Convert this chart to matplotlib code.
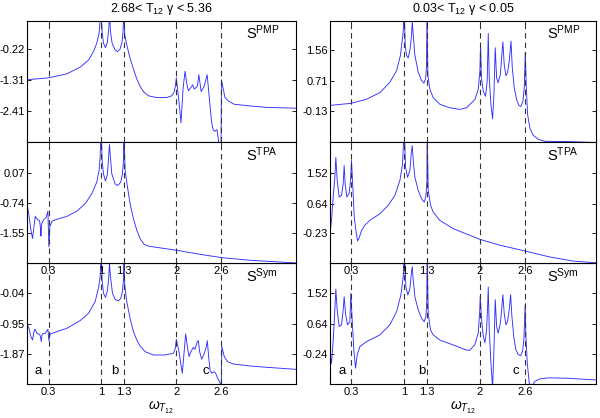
import numpy as np
import matplotlib
matplotlib.use('Agg')
import matplotlib.pyplot as plt

plt.rcParams['font.family'] = ['Liberation Sans', 'DejaVu Sans']
plt.rcParams['mathtext.fontset'] = 'custom'
plt.rcParams['mathtext.rm'] = 'Liberation Sans'
plt.rcParams['mathtext.it'] = 'Liberation Sans:italic'

# resonance positions (dashed lines / x ticks)
marks = [0.3, 1, 1.3, 2, 2.6]
mark_labels = ['0.3', '1', '1.3', '2', '2.6']

# ---- left column: 2.68 < T12 gamma < 5.36 ----
pmp_l_x = [0.01, 0.30, 0.544, 0.721, 0.832, 0.898, 0.942, 0.973, 1.0, 1.013, 1.031, 1.058, 1.084, 1.102,
           1.111, 1.124, 1.146, 1.186, 1.217, 1.252, 1.279, 1.292, 1.301, 1.314, 1.341, 1.385, 1.429,
           1.474, 1.518, 1.562, 1.629, 1.739, 1.872, 1.938, 1.969, 1.987, 2.0, 2.036, 2.062, 2.09, 2.116,
           2.14, 2.16, 2.195, 2.217, 2.24, 2.28, 2.30, 2.33, 2.37, 2.41, 2.44, 2.47, 2.49, 2.51, 2.54,
           2.56, 2.575, 2.595, 2.60, 2.647, 2.69, 2.77, 2.98, 3.20, 3.585]
pmp_l_y = [-1.30, -1.23, -1.09, -0.85, -0.60, -0.30, 0.00, 0.36, 1.3, 0.42, 0.00, -0.16, 0.06, 0.54,
           1.1, 0.42, 0.00, -0.24, -0.30, -0.21, 0.06, 0.42, 1.3, 0.30, -0.06, -0.54, -0.91,
           -1.27, -1.53, -1.72, -1.87, -1.93, -1.93, -1.87, -1.75, -1.53, -1.23, -2.10, -2.83, -1.60, -1.00,
           -1.45, -1.69, -1.57, -1.48, -1.63, -1.53, -1.12, -1.72, -1.53, -1.12, -1.99, -2.83, -3.07, -3.13, -3.07,
           -3.43, -3.70, -3.6, -1.30, -1.93, -2.05, -2.17, -2.23, -2.28, -2.31]

tpa_l_x = [0.01, 0.04, 0.066, 0.088, 0.106, 0.124, 0.155, 0.181, 0.194, 0.199, 0.208, 0.234, 0.27, 0.292,
           0.305, 0.318, 0.345, 0.41, 0.544, 0.677, 0.788, 0.876, 0.942, 0.973, 0.987, 1.0, 1.013, 1.031,
           1.058, 1.084, 1.102, 1.111, 1.12, 1.142, 1.186, 1.221, 1.261, 1.283, 1.297, 1.30, 1.319, 1.35,
           1.385, 1.429, 1.474, 1.518, 1.571, 1.629, 2.0, 2.315, 2.61, 2.98, 3.585]
tpa_l_y = [-0.70, -1.06, -1.46, -1.685, -1.37, -1.09, -1.18, -1.20, -1.42, -1.62, -1.29, -1.18, -1.11, -0.95,
           -1.91, -1.37, -1.22, -1.17, -1.09, -0.95, -0.75, -0.48, -0.17, 0.14, 0.50, 1.4, 0.41, 0.05,
           -0.14, 0.05, 0.59, 0.84, 0.59, 0.05, -0.22, -0.26, -0.17, 0.05, 0.41, 1.4, 0.14, -0.30,
           -0.75, -1.15, -1.46, -1.685, -1.84, -1.89, -2.00, -2.11, -2.20, -2.27, -2.34]

sym_l_x = [0.01, 0.04, 0.066, 0.088, 0.106, 0.119, 0.146, 0.181, 0.194, 0.203, 0.216, 0.256, 0.292, 0.305,
           0.323, 0.41, 0.544, 0.721, 0.832, 0.92, 0.969, 0.987, 1.0, 1.013, 1.031, 1.058, 1.084, 1.102,
           1.111, 1.124, 1.151, 1.186, 1.23, 1.261, 1.283, 1.297, 1.30, 1.314, 1.341, 1.385, 1.429, 1.474,
           1.518, 1.584, 1.695, 1.85, 1.96, 1.987, 2.0, 2.036, 2.062, 2.08, 2.102, 2.124, 2.147, 2.169,
           2.195, 2.226, 2.248, 2.279, 2.293, 2.31, 2.337, 2.372, 2.399, 2.412, 2.43, 2.448, 2.47, 2.50,
           2.523, 2.549, 2.58, 2.597, 2.605, 2.638, 2.682, 2.757, 2.98, 3.2, 3.585]
sym_l_y = [-0.94, -1.09, -1.34, -1.44, -1.19, -1.12, -1.24, -1.27, -1.34, -1.49, -1.26, -1.24, -1.12, -1.46,
           -1.26, -1.19, -1.09, -0.86, -0.64, -0.29, 0.16, 0.46, 1.2, 0.36, -0.04, -0.16, 0.04, 0.46,
           0.86, 0.46, -0.04, -0.22, -0.27, -0.19, 0.01, 0.36, 1.2, 0.21, -0.29, -0.79, -1.19, -1.44,
           -1.62, -1.79, -1.89, -1.89, -1.84, -1.69, -1.42, -1.79, -2.19, -2.44, -1.84, -1.26, -1.64, -1.94,
           -1.79, -1.66, -1.72, -1.49, -1.46, -1.79, -2.02, -1.84, -1.64, -1.46, -1.94, -2.34, -2.44, -2.39,
           -2.44, -2.59, -2.72, -2.85, -1.64, -1.94, -2.09, -2.16, -2.22, -2.26, -2.32]

# ---- right column: 0.03 < T12 gamma < 0.05 ----
pmp_r_x = [0.02, 0.295, 0.50, 0.68, 0.81, 0.90, 0.95, 0.987, 1.0, 1.013, 1.031, 1.053, 1.079, 1.097, 1.106,
           1.119, 1.141, 1.185, 1.229, 1.26, 1.282, 1.295, 1.30, 1.313, 1.339, 1.383, 1.471, 1.603, 1.735,
           1.823, 1.933, 1.977, 1.9995, 2.008, 2.02, 2.044, 2.074, 2.096, 2.11, 2.123, 2.145, 2.167, 2.185,
           2.202, 2.22, 2.24, 2.27, 2.29, 2.303, 2.32, 2.343, 2.365, 2.387, 2.41, 2.427, 2.453, 2.484, 2.515,
           2.54, 2.567, 2.585, 2.599, 2.612, 2.63, 2.66, 2.704, 2.77, 2.858, 3.14, 3.53]
pmp_r_y = [0.03, 0.085, 0.196, 0.38, 0.66, 0.985, 1.40, 2.05, 2.8, 1.68, 1.40, 1.33, 1.59, 1.96, 2.33,
           1.96, 1.40, 0.94, 0.71, 0.64, 0.75, 1.12, 2.6, 0.85, 0.47, 0.24, 0.06, -0.036, -0.08,
           -0.036, 0.19, 0.465, 0.975, 1.70, 0.79, 0.42, 0.28, 0.70, 2.0, 0.79, 0.05, -0.34, 0.33,
           1.61, 0.79, 0.65, 0.88, 1.44, 1.77, 1.16, 0.84, 0.93, 1.25, 1.79, 1.07, 0.51, 0.19, 0.03,
           0.00, 0.14, 0.51, 1.49, 0.51, -0.23, -0.60, -0.79, -0.90, -0.955, -0.96, -0.99]

tpa_r_x = [0.02, 0.04, 0.062, 0.084, 0.097, 0.115, 0.141, 0.172, 0.194, 0.207, 0.22, 0.243, 0.273, 0.291,
           0.304, 0.317, 0.34, 0.362, 0.384, 0.406, 0.437, 0.48, 0.546, 0.68, 0.79, 0.877, 0.943, 0.978,
           1.0, 1.018, 1.044, 1.075, 1.092, 1.106, 1.119, 1.141, 1.185, 1.229, 1.264, 1.286, 1.30, 1.303,
           1.317, 1.348, 1.383, 1.471, 1.647, 2.0, 2.264, 2.60, 2.92, 3.23, 3.53]
tpa_r_y = [-0.23, 0.15, 0.83, 1.40, 1.98, 1.31, 0.83, 0.875, 1.21, 1.74, 1.21, 0.83, 0.93, 1.31,
           1.89, 1.31, 0.25, -0.14, -0.45, -0.35, -0.14, 0.01, 0.15, 0.345, 0.59, 0.875, 1.31, 1.79,
           2.9, 1.69, 1.40, 1.60, 2.08, 2.32, 1.89, 1.40, 1.02, 0.78, 0.68, 0.85, 1.31, 2.8,
           1.02, 0.59, 0.39, 0.15, -0.09, -0.40, -0.57, -0.74, -0.91, -1.03, -1.08]

sym_r_x = [0.02, 0.04, 0.062, 0.08, 0.097, 0.115, 0.141, 0.172, 0.194, 0.207, 0.225, 0.251, 0.282, 0.295,
           0.313, 0.335, 0.357, 0.379, 0.414, 0.502, 0.679, 0.81, 0.899, 0.956, 0.987, 1.0, 1.022, 1.048,
           1.075, 1.092, 1.106, 1.119, 1.141, 1.185, 1.229, 1.264, 1.286, 1.298, 1.303, 1.317, 1.348, 1.383,
           1.471, 1.647, 1.823, 1.867, 1.933, 1.977, 1.996, 2.004, 2.022, 2.044, 2.066, 2.088, 2.10, 2.11,
           2.123, 2.145, 2.167, 2.185, 2.202, 2.22, 2.24, 2.27, 2.29, 2.303, 2.32, 2.343, 2.365, 2.387,
           2.405, 2.422, 2.449, 2.475, 2.506, 2.537, 2.563, 2.58, 2.597, 2.607, 2.625, 2.651, 2.682, 2.726,
           2.792, 2.902, 3.144, 3.53]
sym_r_y = [-0.21, -0.50, 0.17, 0.85, 1.64, 1.04, 0.56, 0.61, 1.04, 1.42, 0.94, 0.61, 0.70, 1.52,
           0.75, -0.12, -0.64, -0.26, -0.02, 0.125, 0.32, 0.61, 0.99, 1.47, 2.0, 2.9, 1.71, 1.47,
           1.66, 2.05, 2.29, 1.90, 1.42, 1.04, 0.80, 0.70, 0.85, 1.28, 2.8, 0.94, 0.46, 0.32,
           0.17, 0.03, -0.12, -0.12, 0.04, 0.37, 0.95, 1.43, 0.76, 0.28, 0.09, 0.47, 1.05, 1.70,
           0.47, -0.49, -1.20, -0.11, 1.34, 0.57, 0.37, 0.66, 1.14, 1.48, 0.95, 0.61, 0.71, 1.05,
           1.48, 0.85, 0.23, -0.11, -0.25, -0.28, -0.15, 0.18, 1.19, 0.28, -0.49, -1.07, -1.16, -1.02,
           -0.95, -0.92, -0.93, -0.98]

titles = ['2.68< T$_{\\mathregular{12}}$ \u03b3 < 5.36', '0.03< T$_{\\mathregular{12}}$ \u03b3 < 0.05']
row_names = ['PMP', 'TPA', 'Sym']

curves = [[(pmp_l_x, pmp_l_y), (pmp_r_x, pmp_r_y)],
          [(tpa_l_x, tpa_l_y), (tpa_r_x, tpa_r_y)],
          [(sym_l_x, sym_l_y), (sym_r_x, sym_r_y)]]
yticks = [[[-2.41, -1.31, -0.22], [-0.13, 0.71, 1.56]],
          [[-1.55, -0.74, 0.07], [-0.23, 0.64, 1.52]],
          [[-1.87, -0.95, -0.04], [-0.24, 0.64, 1.52]]]
ylims = [[(-3.50, 0.80), (-0.965, 2.35)],
         [(-2.352, 0.899), (-1.096, 2.415)],
         [(-2.77, 0.86), (-1.106, 2.386)]]
xlims = [(0.01, 3.585), (0.02, 3.53)]
letters = ['a', 'b', 'c']
letter_x = [[0.167, 1.186, 2.39], [0.186, 1.23, 2.47]]

fig = plt.figure(figsize=(6, 4.18), dpi=100)
lefts = [0.0445, 0.55]
widths = [0.448, 0.443]
bottoms = [0.661, 0.370, 0.0806]
height = 0.2895
zord = [1, 3, 2]

for r in range(3):
    for c in range(2):
        ax = fig.add_axes([lefts[c], bottoms[r], widths[c], height])
        ax.set_zorder(zord[r])
        x, y = curves[r][c]
        ax.plot(x, y, color='#3030ff', lw=0.65)
        for m in marks:
            ax.axvline(m, color='#333333', ls=(0, (5, 3.5)), lw=0.8)
        ax.set_xlim(*xlims[c])
        ax.set_ylim(*ylims[r][c])
        ax.set_yticks(yticks[r][c])
        ax.set_yticklabels(['%.2f' % v for v in yticks[r][c]])
        ax.set_xticks(marks)
        if r == 0:
            ax.set_xticklabels([])
            ax.set_title(titles[c], fontsize=9, pad=6)
        else:
            ax.set_xticklabels(mark_labels)
        ax.tick_params(direction='in', top=True, right=True, labelsize=8, length=3, width=0.6, pad=2)
        ax.tick_params(axis='y', pad=1.5)
        for s in ax.spines.values():
            s.set_linewidth(0.8)
        ax.text(0.815, 0.90, '$\\mathregular{S^{%s}}$' % row_names[r], transform=ax.transAxes,
                fontsize=10.5, ha='left', va='center')
        if r == 2:
            for k in range(3):
                ax.text(letter_x[c][k], 0.11, letters[k], transform=ax.get_xaxis_transform(),
                        fontsize=9.5, ha='center', va='center')
            ax.set_xlabel('$\\omega_{T_{\\mathregular{12}}}$', fontsize=10, labelpad=2)

fig.savefig('out.png', dpi=100)
